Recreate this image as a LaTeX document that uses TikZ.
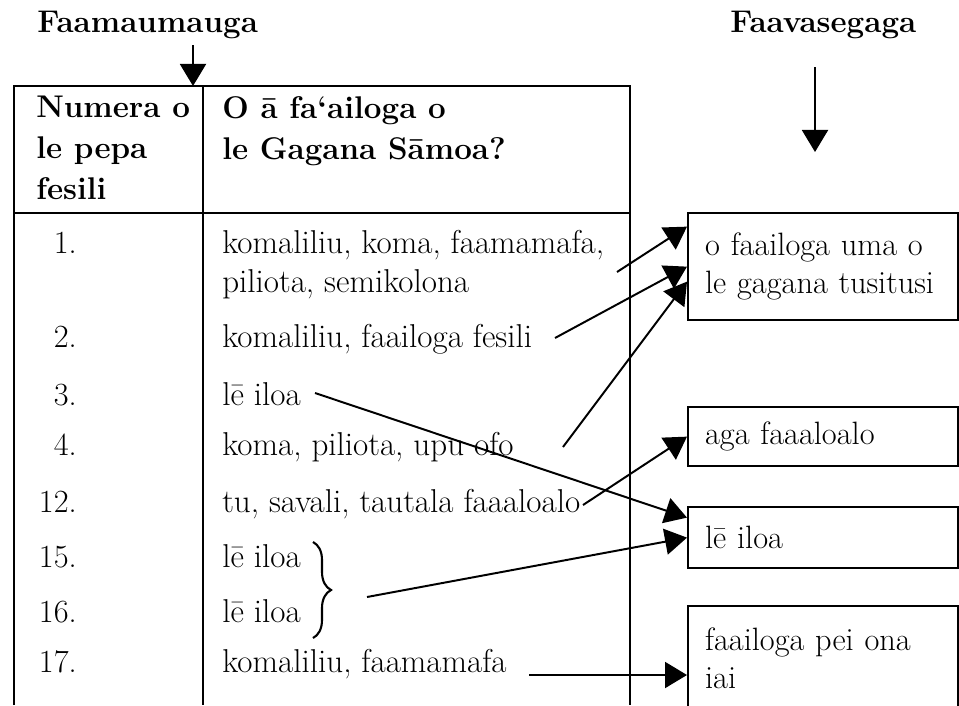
\documentclass[tikz,border=0pt]{standalone}
\usepackage{fontspec}
\usetikzlibrary{arrows.meta, calc, decorations.pathreplacing}

\tikzset{
  cell/.style={inner sep=0pt, anchor=base west, font=\fontsize{23.5}{27}\selectfont},
  num/.style={inner sep=0pt, anchor=base east, font=\fontsize{23}{27}\selectfont},
  head/.style={inner sep=0pt, align=left, font=\bfseries\fontsize{22.3}{29.2}\selectfont},
  answer/.style={draw, line width=1.6pt, anchor=north west, align=left,
    text width=5.9cm, inner xsep=0.425cm, inner ysep=0pt, minimum width=6.75cm,
    font=\fontsize{23}{27}\selectfont},
  rule/.style={line width=1.6pt},
  link/.style={line width=1.4pt, -{Triangle[length=0.55cm,width=0.65cm]}},
  grp/.style={line width=1.5pt, decorate, decoration={brace, amplitude=0.45cm}}
}

\begin{document}
\begin{tikzpicture}[x=0.025cm, y=-0.025cm]
        \useasboundingbox (0,0) rectangle (959,705);

        % headings
        \node[head, anchor=base west] (lblcol) at (37,32) {Faamaumauga};
        \node[head, anchor=base west] (lblbox) at (730,32) {Faavasegaga};
        \coordinate (colfrom) at (193,45);
        \coordinate (colto) at (193,86);
        \coordinate (boxfrom) at (815,67);
        \coordinate (boxto) at (815,152);
        \draw[link] (colfrom) -- (colto);
        \draw[link] (boxfrom) -- (boxto);

        % table
        \draw[rule] (14,705) -- (14,86) -- (630,86) -- (630,705);
        \draw[rule] (203,86) -- (203,705);
        \draw[rule] (14,213) -- (630,213);
        \node[head, anchor=north west] (hnum) at (36,96) {Numera o\\le pepa\\fesili};
        \node[head, anchor=north west] (hcat) at (222,96) {O ā fa‘ailoga o\\le Gagana Sāmoa?};

        \node[num] (n1) at (77,253) {1.};
        \node[num] (n2) at (77,347) {2.};
        \node[num] (n3) at (77,405) {3.};
        \node[num] (n4) at (77,455) {4.};
        \node[num] (n12) at (77,512) {12.};
        \node[num] (n15) at (77,567) {15.};
        \node[num] (n16) at (77,622) {16.};
        \node[num] (n17) at (77,672) {17.};

        \node[cell] (r1a) at (222,253) {komaliliu, koma, faamamafa,};
        \node[cell] (r1b) at (222,292) {piliota, semikolona};
        \node[cell] (r2) at (222,347) {komaliliu, faailoga fesili};
        \node[cell] (r3) at (222,405) {lē iloa};
        \node[cell] (r4) at (222,455) {koma, piliota, upu ofo};
        \node[cell] (r12) at (222,512) {tu, savali, tautala faaaloalo};
        \node[cell] (r15) at (222,567) {lē iloa};
        \node[cell] (r16) at (222,622) {lē iloa};
        \node[cell] (r17) at (222,672) {komaliliu, faamamafa};

        \coordinate (bt) at (313,542);
        \coordinate (bb) at (313,638);
        \draw[grp] (bt) -- (bb);

        % categories
        \node[answer, minimum height=2.675cm] (uma) at (687,212) {o faailoga uma o\\le gagana tusitusi};
        \node[answer, minimum height=1.475cm] (aga) at (687,406) {aga faaaloalo};
        \node[answer, minimum height=1.525cm] (iloa) at (687,506) {lē iloa};
        \node[answer, minimum height=2.6cm] (pei) at (687,605) {faailoga pei ona\\iai};

        % links
        \coordinate (from1) at (617,272);
        \coordinate (from2) at (555,338);
        \coordinate (from3) at (315,393);
        \coordinate (from4) at (563,447);
        \coordinate (from12) at (583,505);
        \coordinate (from15) at (367,597);
        \coordinate (from17) at (529,675);

        \draw[link] (from1) -- ($(uma.west)+(0,-40)$);
        \draw[link] (from2) -- (uma.west);
        \draw[link] (from4) -- ($(uma.west)+(0,15)$);
        \draw[link] (from3) -- ($(iloa.west)+(0,-20)$);
        \draw[link] (from12) -- (aga.west);
        \draw[link] (from15) -- (iloa.west);
        \draw[link] (from17) -- ($(pei.north west)+(0,70)$);
    \end{tikzpicture}
\end{document}
